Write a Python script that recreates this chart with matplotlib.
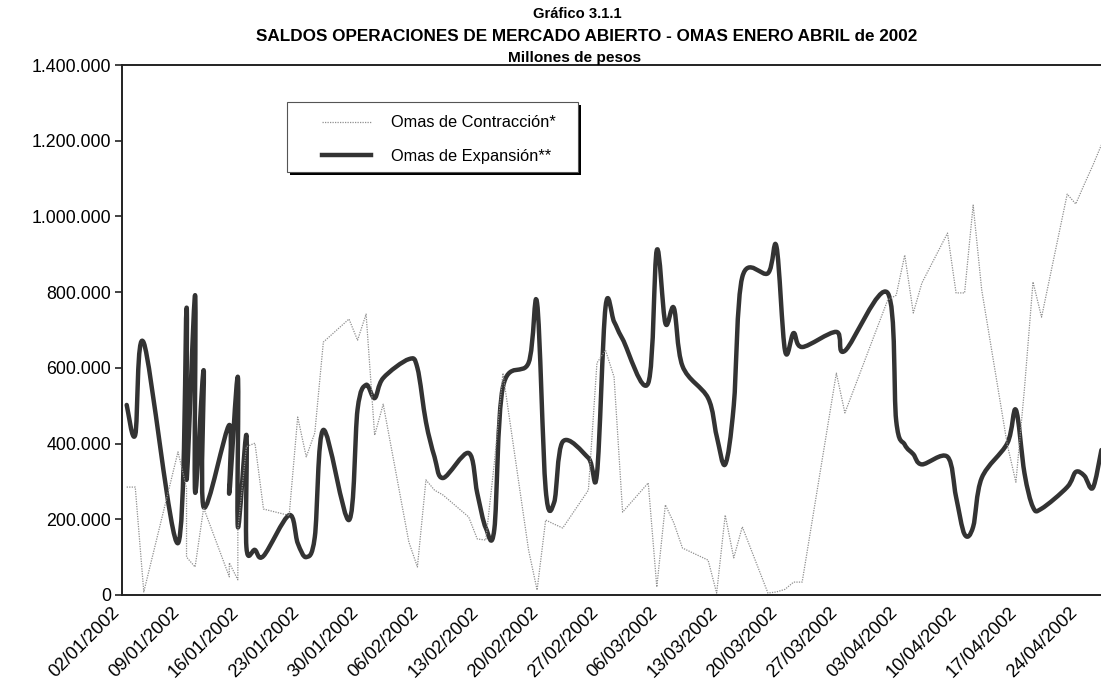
import numpy as np
import pandas as pd
import matplotlib
matplotlib.use("Agg")
import matplotlib.pyplot as plt
import matplotlib.dates as mdates
import matplotlib.transforms as mtransforms
from matplotlib.path import Path
from matplotlib.patches import PathPatch, Rectangle
from matplotlib.lines import Line2D
from matplotlib.ticker import FuncFormatter

plt.rcParams['font.family'] = ['Liberation Sans', 'DejaVu Sans']

# ----------
# data (millones de pesos)
# ----------
contr_dates = [
    "2002-01-02", "2002-01-03", "2002-01-04", "2002-01-08", "2002-01-09", "2002-01-09",
    "2002-01-10", "2002-01-11", "2002-01-14", "2002-01-14", "2002-01-15", "2002-01-15",
    "2002-01-16", "2002-01-17", "2002-01-18", "2002-01-21", "2002-01-22", "2002-01-23",
    "2002-01-24", "2002-01-25", "2002-01-28", "2002-01-29", "2002-01-30", "2002-01-31",
    "2002-02-01", "2002-02-04", "2002-02-05", "2002-02-06", "2002-02-07", "2002-02-08",
    "2002-02-11", "2002-02-12", "2002-02-13", "2002-02-14", "2002-02-15", "2002-02-18",
    "2002-02-19", "2002-02-20", "2002-02-21", "2002-02-22", "2002-02-25", "2002-02-26",
    "2002-02-27", "2002-02-28", "2002-03-01", "2002-03-04", "2002-03-05", "2002-03-06",
    "2002-03-07", "2002-03-08", "2002-03-11", "2002-03-12", "2002-03-13", "2002-03-14",
    "2002-03-15", "2002-03-18", "2002-03-19", "2002-03-20", "2002-03-21", "2002-03-22",
    "2002-03-26", "2002-03-27", "2002-04-01", "2002-04-02", "2002-04-03", "2002-04-04",
    "2002-04-05", "2002-04-08", "2002-04-09", "2002-04-10", "2002-04-11", "2002-04-12",
    "2002-04-15", "2002-04-16", "2002-04-17", "2002-04-18", "2002-04-19", "2002-04-22",
    "2002-04-23", "2002-04-24", "2002-04-25", "2002-04-26",
]
contr_values = [
    285000, 285000, 8000, 378000, 283000, 100000,
    74000, 230000, 48000, 85000, 40000, 172000,
    392000, 401000, 227000, 210000, 470000, 365000,
    428000, 668000, 729000, 673000, 742000, 422000,
    504000, 140000, 74000, 304000, 277000, 264000,
    206000, 148000, 145000, 349000, 586000, 119000,
    13000, 198000, 187000, 177000, 277000, 613000,
    647000, 576000, 219000, 296000, 21000, 238000,
    190000, 124000, 92000, 5000, 211000, 98000,
    180000, 5000, 8000, 15000, 34000, 34000,
    586000, 481000, 779000, 792000, 898000, 745000,
    824000, 956000, 798000, 798000, 1030000, 806000,
    396000, 298000, 545000, 827000, 734000, 1059000,
    1033000, 1085000, 1135000, 1189000,
]

expan_dates = [
    "2002-01-02", "2002-01-03", "2002-01-04", "2002-01-08", "2002-01-09", "2002-01-09",
    "2002-01-10", "2002-01-10", "2002-01-11", "2002-01-11", "2002-01-14", "2002-01-14",
    "2002-01-15", "2002-01-15", "2002-01-16", "2002-01-16", "2002-01-17", "2002-01-18",
    "2002-01-21", "2002-01-22", "2002-01-23", "2002-01-24", "2002-01-25", "2002-01-28",
    "2002-01-29", "2002-01-30", "2002-01-31", "2002-02-01", "2002-02-04", "2002-02-05",
    "2002-02-06", "2002-02-07", "2002-02-08", "2002-02-11", "2002-02-12", "2002-02-13",
    "2002-02-14", "2002-02-15", "2002-02-18", "2002-02-19", "2002-02-20", "2002-02-21",
    "2002-02-22", "2002-02-25", "2002-02-26", "2002-02-27", "2002-02-28", "2002-03-01",
    "2002-03-04", "2002-03-05", "2002-03-06", "2002-03-07", "2002-03-08", "2002-03-11",
    "2002-03-12", "2002-03-13", "2002-03-14", "2002-03-15", "2002-03-18", "2002-03-19",
    "2002-03-20", "2002-03-21", "2002-03-22", "2002-03-26", "2002-03-27", "2002-04-01",
    "2002-04-02", "2002-04-03", "2002-04-04", "2002-04-05", "2002-04-08", "2002-04-09",
    "2002-04-10", "2002-04-11", "2002-04-12", "2002-04-15", "2002-04-16", "2002-04-17",
    "2002-04-18", "2002-04-19", "2002-04-22", "2002-04-23", "2002-04-24", "2002-04-25",
    "2002-04-26",
]
expan_values = [
    502000, 423000, 666000, 137000, 758000, 304000,
    792000, 272000, 594000, 232000, 449000, 269000,
    576000, 180000, 423000, 127000, 119000, 103000,
    211000, 137000, 100000, 153000, 436000, 198000,
    490000, 555000, 520000, 573000, 623000, 600000,
    457000, 365000, 309000, 375000, 269000, 177000,
    174000, 549000, 613000, 771000, 280000, 245000,
    405000, 362000, 320000, 760000, 722000, 676000,
    560000, 911000, 718000, 758000, 605000, 520000,
    420000, 345000, 500000, 840000, 850000, 920000,
    645000, 692000, 655000, 695000, 645000, 798000,
    460000, 397000, 372000, 345000, 365000, 259000,
    160000, 180000, 309000, 401000, 489000, 322000,
    232000, 228000, 285000, 325000, 315000, 283000,
    383000,
]

tick_labels = ["02/01/2002", "09/01/2002", "16/01/2002", "23/01/2002", "30/01/2002",
               "06/02/2002", "13/02/2002", "20/02/2002", "27/02/2002", "06/03/2002",
               "13/03/2002", "20/03/2002", "27/03/2002", "03/04/2002", "10/04/2002",
               "17/04/2002", "24/04/2002"]
y_ticks = [0, 200000, 400000, 600000, 800000, 1000000, 1200000, 1400000]


def smooth_path(x, y):
    # Excel-like smoothed line: cubic bezier through every point
    pts = np.column_stack([x, y]).astype(float)
    n = len(pts)
    verts = [pts[0]]
    codes = [Path.MOVETO]
    for i in range(n - 1):
        p0 = pts[i - 1] if i > 0 else pts[i]
        p1 = pts[i]
        p2 = pts[i + 1]
        p3 = pts[i + 2] if i + 2 < n else pts[i + 1]
        verts += [p1 + (p2 - p0) / 6.0, p2 - (p3 - p1) / 6.0, p2]
        codes += [Path.CURVE4] * 3
    return Path(verts, codes)


x_contr = mdates.date2num(pd.to_datetime(contr_dates))
x_expan = mdates.date2num(pd.to_datetime(expan_dates))
x_ticks = mdates.date2num(pd.to_datetime(tick_labels, format="%d/%m/%Y"))

fig = plt.figure(figsize=(11.01, 6.86), dpi=100)
ax = fig.add_axes([0.1108, 0.1327, 0.8905, 0.7725])

grey = "#8f8f8f"
dark = "#333333"

ax.plot(x_contr, contr_values, color=grey, lw=0.9, ls=(0, (1, 1)))
ax.add_patch(PathPatch(smooth_path(x_expan, expan_values), fill=False,
                       edgecolor=dark, lw=3.2, capstyle='round', joinstyle='round'))

start = mdates.date2num(pd.Timestamp("2002-01-02"))
ax.set_xlim(start - 0.55, start + 114.12)
ax.set_ylim(0, 1400000)

ax.set_yticks(y_ticks)
ax.yaxis.set_major_formatter(FuncFormatter(lambda v, p: f"{v:,.0f}".replace(",", ".")))
ax.tick_params(axis='y', labelsize=12.8, length=5, width=1.2, color="#222222", pad=3)

ax.set_xticks(x_ticks)
ax.set_xticklabels(tick_labels, rotation=45, ha='right', va='top', rotation_mode='anchor')
ax.tick_params(axis='x', labelsize=13.2, length=0, pad=6.5)
shift = mtransforms.ScaledTranslation(-16 / 100, 0, fig.dpi_scale_trans)
for lab in ax.get_xticklabels():
    lab.set_transform(lab.get_transform() + shift)

for side in ['left', 'bottom', 'top']:
    ax.spines[side].set_color("#222222")
    ax.spines[side].set_linewidth(1.4)
ax.spines['right'].set_visible(False)

# legend box with solid drop shadow
box_x, box_y, box_w, box_h = 0.1685, 0.798, 0.297, 0.132
offset = mtransforms.ScaledTranslation(3 / 100, -3 / 100, fig.dpi_scale_trans)
ax.add_patch(Rectangle((box_x, box_y), box_w, box_h, transform=ax.transAxes + offset,
                       facecolor="black", edgecolor="none", zorder=3.9))
ax.add_patch(Rectangle((box_x, box_y), box_w, box_h, transform=ax.transAxes,
                       facecolor="white", edgecolor="#555555", lw=0.8, zorder=4))

handles = [Line2D([], [], color=grey, lw=0.9, ls=(0, (1, 1))),
           Line2D([], [], color=dark, lw=3.2)]
leg = ax.legend(handles, ["Omas de Contracción*", "Omas de Expansión**"],
                loc='center left', bbox_to_anchor=(0.2043, 0.859), fontsize=11.8,
                frameon=False, borderaxespad=0, borderpad=0,
                handlelength=3.0, handletextpad=1.2, labelspacing=1.15)
leg.set_zorder(5)

fig.text(0.524, 0.980, "Gráfico 3.1.1", ha='center', va='center',
         fontsize=10.6, fontweight='bold')
fig.text(0.533, 0.947, "SALDOS OPERACIONES DE MERCADO ABIERTO - OMAS ENERO ABRIL de 2002",
         ha='center', va='center', fontsize=12.3, fontweight='bold')
fig.text(0.5215, 0.915, "Millones de pesos", ha='center', va='center',
         fontsize=11.1, fontweight='bold')

fig.savefig("out.png", dpi=100)
